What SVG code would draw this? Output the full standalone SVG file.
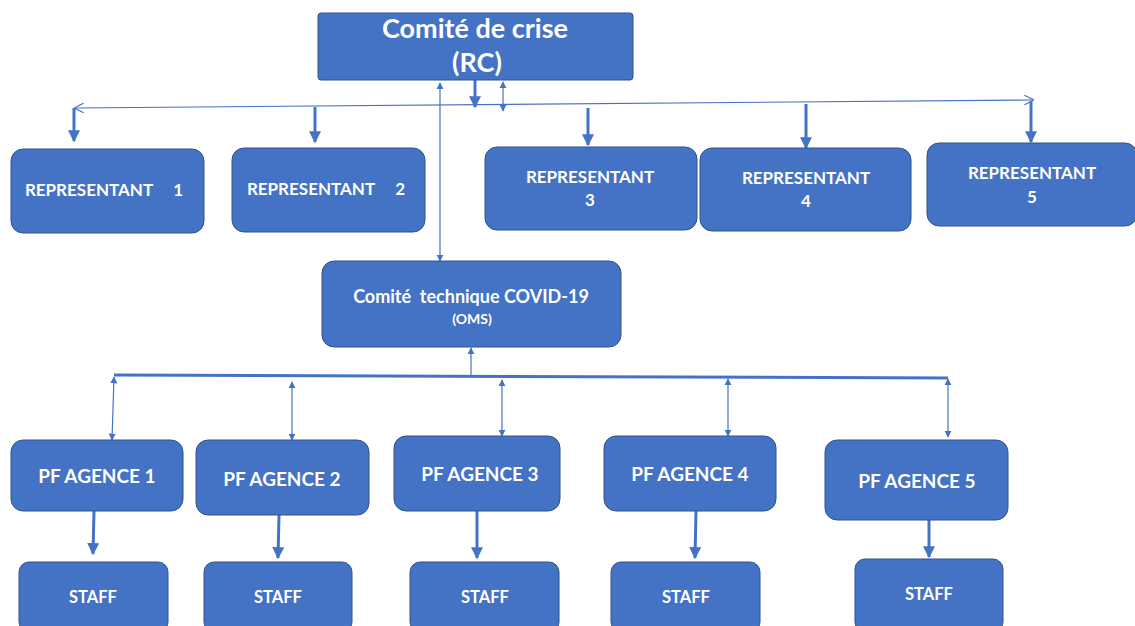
<svg xmlns="http://www.w3.org/2000/svg" width="1135" height="626" viewBox="0 0 1135 626">
<defs>
<style>
.box{fill:#4472C4;stroke:#2F528F;stroke-width:1}
.t{fill:#fff;font-family:Lato,"Open Sans","Liberation Sans",sans-serif;font-weight:bold;text-anchor:middle}
.thin{stroke:#4472C4;stroke-width:1.2;fill:none}
.thick{stroke:#4472C4;stroke-width:3;fill:none}
.bus{stroke:#4472C4;stroke-width:3;fill:none}
</style>
<marker id="ah" viewBox="0 0 10 10" refX="9" refY="5" markerWidth="4" markerHeight="4" orient="auto-start-reverse" markerUnits="strokeWidth"><path d="M0,0 L10,5 L0,10 z" fill="#4472C4"/></marker>
<marker id="sh" viewBox="0 0 10 10" refX="9" refY="5" markerWidth="6" markerHeight="6" orient="auto-start-reverse" markerUnits="strokeWidth"><path d="M0,0 L10,5 L0,10 z" fill="#4472C4"/></marker>
<marker id="open" viewBox="0 0 10 10" refX="9" refY="5" markerWidth="8" markerHeight="8" orient="auto-start-reverse" markerUnits="strokeWidth"><path d="M0,0 L10,5 L0,10" fill="none" stroke="#4472C4" stroke-width="1.2"/></marker>
</defs>
<rect width="1135" height="626" fill="#fff"/>
<g id="connectors">
<line class="thin" x1="75" y1="108" x2="1033" y2="100" marker-start="url(#open)" marker-end="url(#open)"/>
<line class="thick" x1="475" y1="80" x2="475" y2="107" marker-end="url(#ah)"/>
<line class="thin" x1="503" y1="82" x2="503" y2="111" marker-start="url(#sh)" marker-end="url(#sh)"/>
<line class="thin" x1="440" y1="83" x2="440" y2="261" marker-start="url(#sh)" marker-end="url(#sh)"/>
<line class="thick" x1="74" y1="108" x2="74" y2="141" marker-end="url(#ah)"/>
<line class="thick" x1="315" y1="107" x2="315" y2="142" marker-end="url(#ah)"/>
<line class="thick" x1="588" y1="108" x2="588" y2="145" marker-end="url(#ah)"/>
<line class="thick" x1="806" y1="104" x2="806" y2="148" marker-end="url(#ah)"/>
<line class="thick" x1="1031" y1="101" x2="1031" y2="142" marker-end="url(#ah)"/>
<line class="bus" x1="114" y1="375" x2="948" y2="378"/>
<line class="thin" x1="471" y1="376" x2="471" y2="348" marker-end="url(#sh)"/>
<line class="thin" x1="114" y1="377" x2="112" y2="440" marker-start="url(#sh)" marker-end="url(#sh)"/>
<line class="thin" x1="292" y1="382" x2="292" y2="440" marker-start="url(#sh)" marker-end="url(#sh)"/>
<line class="thin" x1="502" y1="380" x2="502" y2="436" marker-start="url(#sh)" marker-end="url(#sh)"/>
<line class="thin" x1="728" y1="379" x2="728" y2="436" marker-start="url(#sh)" marker-end="url(#sh)"/>
<line class="thin" x1="948" y1="379" x2="948" y2="437" marker-start="url(#sh)" marker-end="url(#sh)"/>
<line class="thick" x1="94" y1="511" x2="93" y2="554" marker-end="url(#ah)"/>
<line class="thick" x1="279" y1="515" x2="278" y2="558" marker-end="url(#ah)"/>
<line class="thick" x1="477" y1="511" x2="477" y2="558" marker-end="url(#ah)"/>
<line class="thick" x1="696" y1="511" x2="695" y2="558" marker-end="url(#ah)"/>
<line class="thick" x1="929" y1="520" x2="929" y2="557" marker-end="url(#ah)"/>
</g>
<g id="rc"><rect class="box" x="318" y="13" width="315" height="67" rx="3"/>
<text class="t" x="475" y="38" font-size="27">Comité de crise</text>
<text class="t" x="477" y="72" font-size="27">(RC)</text></g>
<g id="rep1"><rect class="box" x="11" y="149" width="193" height="84" rx="12"/>
<text class="t" x="104" y="196" font-size="17" xml:space="preserve">REPRESENTANT     1</text></g>
<g id="rep2"><rect class="box" x="232" y="148" width="193" height="84" rx="12"/>
<text class="t" x="326" y="195" font-size="17" xml:space="preserve">REPRESENTANT     2</text></g>
<g id="rep3"><rect class="box" x="485" y="147" width="212" height="83" rx="12"/>
<text class="t" x="590" y="183" font-size="17">REPRESENTANT</text>
<text class="t" x="590" y="206" font-size="17">3</text></g>
<g id="rep4"><rect class="box" x="700" y="148" width="211" height="83" rx="12"/>
<text class="t" x="806" y="184" font-size="17">REPRESENTANT</text>
<text class="t" x="806" y="207" font-size="17">4</text></g>
<g id="rep5"><rect class="box" x="927" y="143" width="210" height="83" rx="12"/>
<text class="t" x="1032" y="179" font-size="17">REPRESENTANT</text>
<text class="t" x="1032" y="203" font-size="17">5</text></g>
<g id="ct"><rect class="box" x="322" y="261" width="299" height="86" rx="12"/>
<text class="t" x="471" y="303" font-size="18" xml:space="preserve">Comité  technique COVID-19</text>
<text class="t" x="472" y="324" font-size="14">(OMS)</text></g>
<g id="pf1"><rect class="box" x="11" y="440" width="172" height="71" rx="12"/>
<text class="t" x="97" y="483" font-size="19">PF AGENCE 1</text></g>
<g id="pf2"><rect class="box" x="196" y="440" width="173" height="75" rx="12"/>
<text class="t" x="282" y="486" font-size="19">PF AGENCE 2</text></g>
<g id="pf3"><rect class="box" x="394" y="436" width="166" height="75" rx="12"/>
<text class="t" x="480" y="481" font-size="19">PF AGENCE 3</text></g>
<g id="pf4"><rect class="box" x="604" y="436" width="172" height="75" rx="12"/>
<text class="t" x="690" y="481" font-size="19">PF AGENCE 4</text></g>
<g id="pf5"><rect class="box" x="825" y="440" width="183" height="80" rx="12"/>
<text class="t" x="917" y="488" font-size="19">PF AGENCE 5</text></g>
<g id="staff1"><rect class="box" x="19" y="562" width="149" height="70" rx="10"/>
<text class="t" x="93" y="603" font-size="16.5">STAFF</text></g>
<g id="staff2"><rect class="box" x="204" y="562" width="148" height="70" rx="10"/>
<text class="t" x="278" y="603" font-size="16.5">STAFF</text></g>
<g id="staff3"><rect class="box" x="410" y="562" width="149" height="70" rx="10"/>
<text class="t" x="485" y="603" font-size="16.5">STAFF</text></g>
<g id="staff4"><rect class="box" x="611" y="562" width="149" height="70" rx="10"/>
<text class="t" x="686" y="603" font-size="16.5">STAFF</text></g>
<g id="staff5"><rect class="box" x="855" y="559" width="148" height="73" rx="10"/>
<text class="t" x="929" y="600" font-size="16.5">STAFF</text></g>
</svg>
